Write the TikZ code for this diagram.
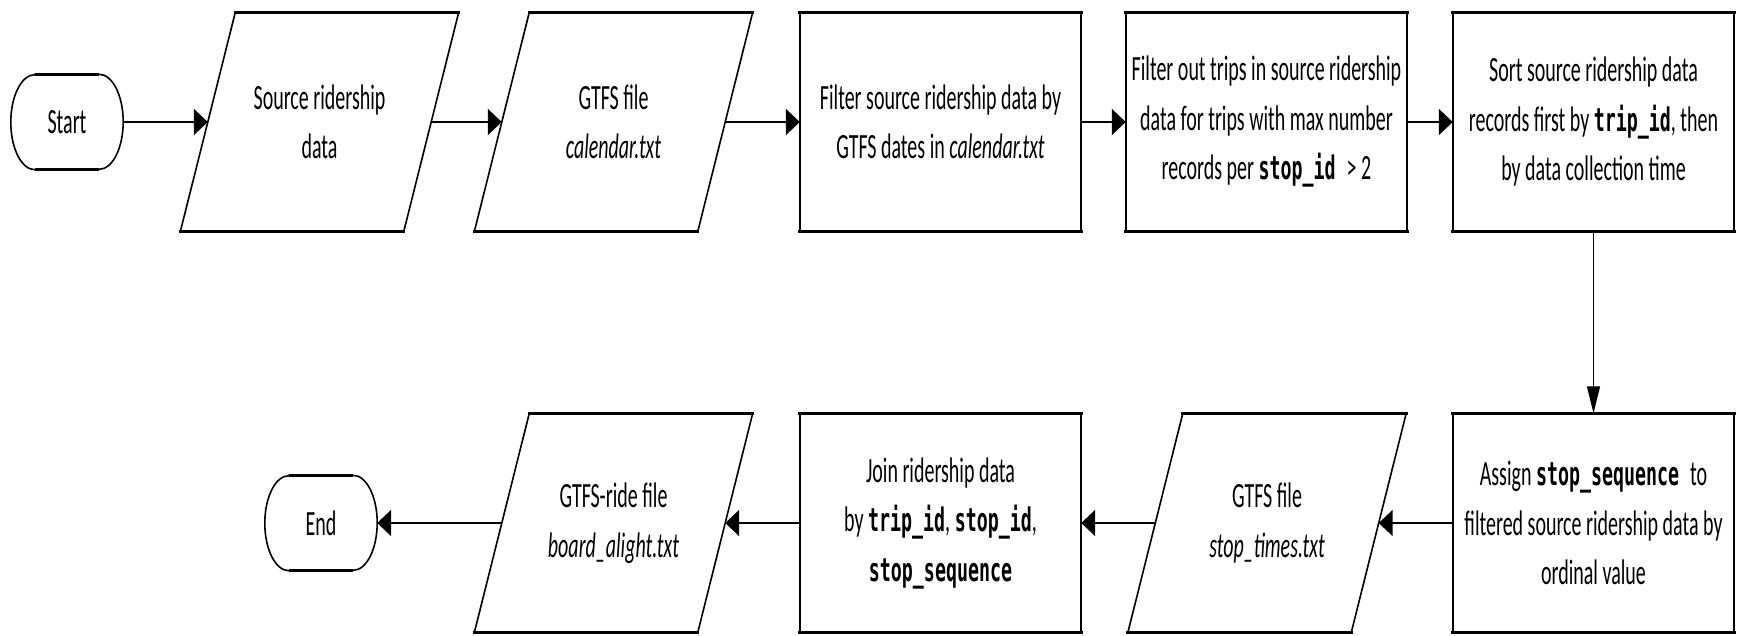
\documentclass[tikz,border=0pt]{standalone}
\usepackage{fontspec}
\setmainfont{Carlito}[FakeStretch=0.563]
\newfontfamily\codefont{DejaVu Sans Mono}[FakeStretch=0.563,Scale=0.915]
\newcommand{\code}[1]{{\codefont\bfseries #1}}
\usetikzlibrary{arrows.meta}

\begin{document}
\begin{tikzpicture}[x=1pt,y=-1pt,
  every node/.style={font=\fontsize{35.5}{49.5}\selectfont, align=center, inner sep=0pt},
  proc/.style={minimum width=281pt, minimum height=219pt},
  io/.style={minimum width=223pt, minimum height=219pt},
  term/.style={minimum width=112pt, minimum height=95pt},
  thinrim/.style={line width=1.6pt, line join=miter},
  thickrim/.style={line width=3.2pt, line cap=rect},
  hflow/.style={line width=2pt, -{Triangle[length=14pt,width=26pt]}},
  vflow/.style={line width=1.1pt, -{Triangle[length=27pt,width=13pt]}},
]
\fill[white] (0,0) rectangle (1737,635);
\useasboundingbox (0,0) rectangle (1737,635);

% nodes, top row left to right, bottom row right to left
\node[term] (start)  at (67,122)     {Start};
\node[io]   (src)    at (319.5,122)  {Source ridership\\data};
\node[io]   (cal)    at (613.5,122)  {GTFS file\\\textit{calendar.txt}};
\node[proc] (filt)   at (940.5,122)  {Filter source ridership data by\\GTFS dates in \textit{calendar.txt}};
\node[proc] (trips)  at (1266.5,122) {Filter out trips in source ridership\\data for trips with max number\\records per \code{stop\_id\ }> 2};
\node[proc] (sort)   at (1593.5,122) {Sort source ridership data\\records first by \code{trip\_id}, then\\by data collection time};
\node[proc] (assign) at (1593.5,523) {Assign \code{stop\_sequence\ }to\\filtered source ridership data by\\ordinal value};
\node[io]   (stt)    at (1267,523)   {GTFS file\\\textit{stop\_times.txt}};
\node[proc] (join)   at (940.5,523)  {Join ridership data\\by \code{trip\_id}, \code{stop\_id},\\\code{stop\_sequence}};
\node[io]   (ride)   at (613.5,523)  {GTFS-ride file\\\textit{board\_alight.txt}};
\node[term] (finish) at (321,523)    {End};

% process boxes
\foreach \n in {filt,trips,sort,assign,join} {
  \draw[thinrim] (\n.north west) rectangle (\n.south east);
  \draw[thickrim] (\n.north west) -- (\n.north east);
  \draw[thickrim] (\n.south west) -- (\n.south east);
}

% data (parallelogram) shapes
\foreach \n in {src,cal,stt,ride} {
  \draw[thinrim] ([xshift=27.5pt]\n.north west) -- ([xshift=27.5pt]\n.north east)
    -- ([xshift=-27.5pt]\n.south east) -- ([xshift=-27.5pt]\n.south west) -- cycle;
  \draw[thickrim] ([xshift=27.5pt]\n.north west) -- ([xshift=27.5pt]\n.north east);
  \draw[thickrim] ([xshift=-27.5pt]\n.south west) -- ([xshift=-27.5pt]\n.south east);
}

% terminals
\foreach \n in {start,finish} {
  \draw[thinrim] ([xshift=24pt]\n.north west) -- ([xshift=-24pt]\n.north east)
    arc[start angle=90,end angle=-90,x radius=24pt,y radius=47.5pt]
    -- ([xshift=24pt]\n.south west)
    arc[start angle=270,end angle=90,x radius=24pt,y radius=47.5pt] -- cycle;
  \draw[thickrim, line cap=butt] ([xshift=24pt]\n.north west) -- ([xshift=-24pt]\n.north east);
  \draw[thickrim, line cap=butt] ([xshift=24pt]\n.south west) -- ([xshift=-24pt]\n.south east);
}

% connectors
\draw[hflow] (start.east) -- (src.west);
\draw[hflow] (src.east) -- (cal.west);
\draw[hflow] (cal.east) -- (filt.west);
\draw[hflow] (filt.east) -- (trips.west);
\draw[hflow] (trips.east) -- (sort.west);
\draw[vflow] (sort.south) -- (assign.north);
\draw[hflow] (assign.west) -- (stt.east);
\draw[hflow] (stt.west) -- (join.east);
\draw[hflow] (join.west) -- (ride.east);
\draw[hflow] (ride.west) -- (finish.east);
\end{tikzpicture}
\end{document}
